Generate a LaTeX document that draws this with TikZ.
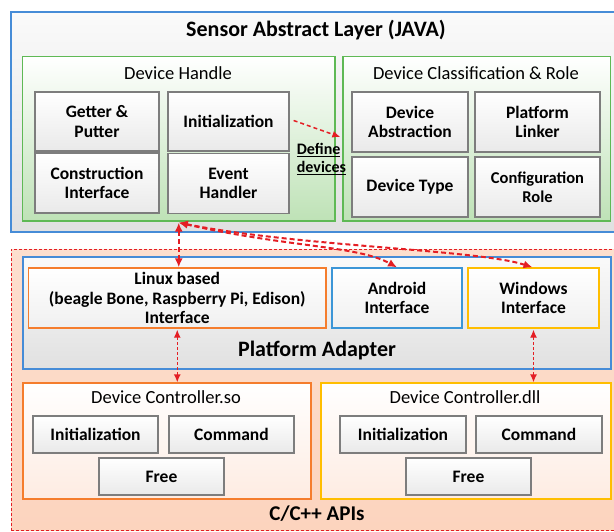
\documentclass[tikz,border=0pt]{standalone}
\usepackage{fontspec}
\setmainfont{Carlito}
\usetikzlibrary{arrows.meta}
\definecolor{salblue}{RGB}{70,140,215}
\definecolor{grpgreen}{RGB}{95,185,85}
\definecolor{lightgreen}{RGB}{190,226,182}
\definecolor{cellline}{RGB}{125,125,125}
\definecolor{peach}{RGB}{252,212,190}
\definecolor{orangeline}{RGB}{245,125,45}
\definecolor{goldline}{RGB}{255,190,0}
\definecolor{andblue}{RGB}{60,150,215}
\definecolor{arrowred}{RGB}{228,30,36}
\tikzset{
  layer/.style={draw=salblue, line width=1.2pt, top color=gray!4, bottom color=gray!24, inner sep=0pt},
  group/.style={draw=grpgreen, line width=1.3pt, top color=white, bottom color=lightgreen, inner sep=0pt},
  cell/.style={draw=cellline, line width=1.3pt, top color=white, bottom color=gray!17, inner sep=0pt,
    align=center, font=\fontsize{17.5}{19.5}\selectfont\bfseries},
  iface/.style={line width=1.3pt, top color=white, bottom color=gray!12, inner sep=0pt,
    align=center, font=\fontsize{17.5}{19.5}\selectfont\bfseries},
  lib/.style={line width=1.3pt, top color=white, bottom color=peach!45, inner sep=0pt},
  title/.style={font=\fontsize{18.5}{20}\selectfont},
  bigtitle/.style={font=\fontsize{22}{24}\selectfont\bfseries},
  link/.style={draw=arrowred, line width=2pt, dash pattern=on 5pt off 3pt,
    arrows={Latex[length=9pt,width=8pt]-Latex[length=9pt,width=8pt]}},
  thinlink/.style={draw=arrowred, line width=1.3pt, dash pattern=on 3pt off 2pt,
    arrows={Latex[length=8pt,width=7pt]-Latex[length=8pt,width=7pt]}}
}
\begin{document}
\begin{tikzpicture}[x=1pt,y=-1pt]
\useasboundingbox (0,0) rectangle (614,531);
% Sensor Abstract Layer
\node[layer, minimum width=605pt, minimum height=220pt] (sal) at (313.5,122) {};
\node[bigtitle] (saltitle) at (316,30) {Sensor Abstract Layer (JAVA)};
\node[group, minimum width=312.5pt, minimum height=164.5pt] (handle) at (178.75,138.75) {};
\node[title] (handletitle) at (178,73) {Device Handle};
\node[group, minimum width=267.5pt, minimum height=164.5pt] (classif) at (476.75,138.75) {};
\node[title] (classiftitle) at (476,73) {Device Classification \& Role};
\node[cell, minimum width=124pt, minimum height=59pt] (getter) at (97,121.5) {Getter \&\\Putter};
\node[cell, minimum width=121pt, minimum height=59pt] (init) at (228.5,121.5) {Initialization};
\node[cell, minimum width=124pt, minimum height=60pt] (constr) at (97,183) {Construction\\Interface};
\node[cell, minimum width=121pt, minimum height=60pt] (event) at (228.5,183.5) {Event\\Handler};
\node[cell, minimum width=116pt, minimum height=60pt] (abstr) at (410,122) {Device\\Abstraction};
\node[cell, minimum width=125pt, minimum height=60pt] (linker) at (537.5,122) {Platform\\Linker};
\node[cell, minimum width=116pt, minimum height=60pt] (devtype) at (410,187) {Device Type};
\node[cell, minimum width=125pt, minimum height=60pt, font=\fontsize{16.5}{19}\selectfont\bfseries] (config) at (537.5,187) {Configuration\\Role};
\node[align=left, inner sep=0pt, font=\fontsize{16}{18.5}\selectfont\bfseries] (define) at (321.5,159) {\underline{Define}\\\underline{devices}};
% C/C++ APIs
\node[draw=arrowred, line width=0.8pt, dash pattern=on 3pt off 2pt, top color=peach!75, bottom color=peach, inner sep=0pt,
  minimum width=605pt, minimum height=281pt] (apis) at (313.5,389.5) {};
\node[layer, minimum width=588pt, minimum height=112pt] (adapter) at (317,313) {};
\node[iface, draw=orangeline, minimum width=297.5pt, minimum height=60pt] (linux) at (177.25,298)
  {Linux based\\(beagle Bone, Raspberry Pi, Edison)\\Interface};
\node[iface, draw=andblue, minimum width=130pt, minimum height=60pt] (android) at (397,298) {Android\\Interface};
\node[iface, draw=goldline, minimum width=131pt, minimum height=60pt] (windows) at (533.5,298) {Windows\\Interface};
\node[bigtitle] (adaptertitle) at (317,351) {Platform Adapter};
\node[lib, draw=orangeline, minimum width=288pt, minimum height=116pt] (so) at (167,441) {};
\node[title] (sotitle) at (166,397) {Device Controller.so};
\node[lib, draw=goldline, minimum width=290pt, minimum height=116pt] (dll) at (466,441) {};
\node[title] (dlltitle) at (465,397) {Device Controller.dll};
\node[cell, minimum width=125pt, minimum height=37pt] (soinit) at (95.5,434.5) {Initialization};
\node[cell, minimum width=125pt, minimum height=37pt] (socmd) at (231.5,434.5) {Command};
\node[cell, minimum width=125pt, minimum height=37pt] (sofree) at (161.5,476.5) {Free};
\node[cell, minimum width=126pt, minimum height=37pt] (dllinit) at (403,434.5) {Initialization};
\node[cell, minimum width=126pt, minimum height=37pt] (dllcmd) at (539,434.5) {Command};
\node[cell, minimum width=125pt, minimum height=37pt] (dllfree) at (468.5,476.5) {Free};
\node[font=\fontsize{21}{23}\selectfont\bfseries] (apistitle) at (317,514) {C/C++ APIs};
% links
\draw[draw=arrowred, line width=1.5pt, dash pattern=on 4pt off 3pt, -{Latex[length=8pt,width=7pt]}]
  ([xshift=4pt,yshift=1pt]init.east) -- ([xshift=-11pt,yshift=-15pt]abstr.west);
\draw[link] ([yshift=-1pt]handle.south) -- (handle.south |- linux.north);
\draw[link] ([yshift=-1pt]handle.south) .. controls +(110,25) and +(-40,-22) .. (android.north);
\draw[link] ([yshift=-1pt]handle.south) .. controls +(120,24) and +(-55,-18) .. ([xshift=-1pt]windows.north);
\draw[thinlink] ([yshift=-1pt]linux.south) -- (linux.south |- so.north);
\draw[thinlink] ([yshift=-1pt]windows.south) -- (windows.south |- dll.north);
\end{tikzpicture}
\end{document}
